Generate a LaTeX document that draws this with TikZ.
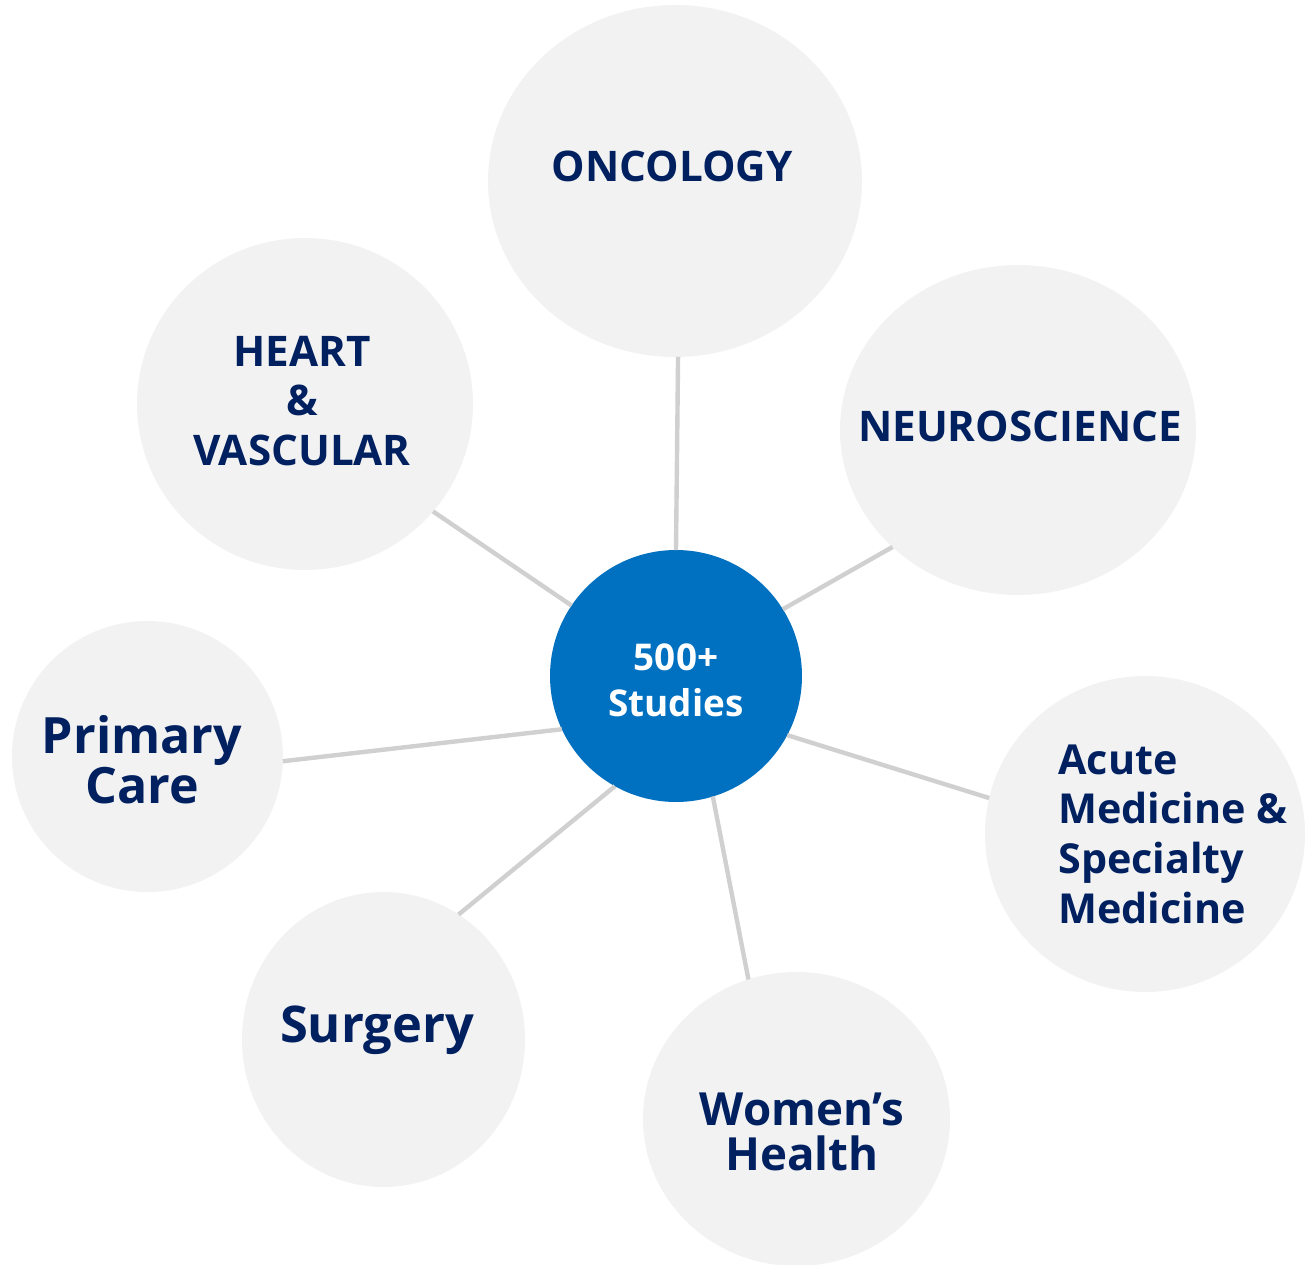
\documentclass[tikz,border=0pt]{standalone}
\usepackage{fontspec}
\setmainfont{Open Sans}
\usetikzlibrary{shapes.geometric}
\definecolor{bubblegray}{HTML}{F2F2F2}
\definecolor{hubblue}{HTML}{0070C0}
\definecolor{navytext}{HTML}{002060}
\definecolor{linkgray}{HTML}{D0D0D0}

\begin{document}
\begin{tikzpicture}[x=0.02cm, y=-0.02cm,
  bubble/.style = {shape=ellipse, fill=bubblegray, inner sep=0pt, outer sep=0pt},
  hub/.style = {shape=circle, fill=hubblue, inner sep=0pt, outer sep=0pt,
    minimum size=5.04cm},
  caption/.style = {inner sep=0pt, align=center, text=navytext},
  link/.style = {draw=linkgray, line width=2.5pt}]
  \path[use as bounding box, fill=white] (0,0) rectangle (1306,1265);

  % the bubbles
  \node[bubble, minimum width=7.48cm, minimum height=7.04cm] (oncology) at (675,181) {};
  \node[bubble, minimum width=6.72cm, minimum height=6.64cm] (heart) at (305,404) {};
  \node[bubble, minimum width=7.12cm, minimum height=6.60cm] (neuro) at (1018,430) {};
  \node[bubble, minimum width=5.42cm, minimum height=5.42cm] (primary) at (147.5,756.5) {};
  \node[bubble, minimum width=6.40cm, minimum height=6.32cm] (acute) at (1145,834) {};
  \node[bubble, minimum width=5.66cm, minimum height=5.90cm] (surgery) at (383.5,1039.5) {};
  \node[bubble, minimum width=6.14cm, minimum height=5.88cm] (women) at (796.5,1119) {};
  \node[hub] (studies) at (676,676) {};

  % spokes
  \draw[link] (studies.90) -- (oncology.271);
  \draw[link] (studies.146) -- (heart.320);
  \draw[link] (studies.32) -- (neuro.223);
  \draw[link] (studies.205) -- (primary.358);
  \draw[link] (studies.332) -- (acute.167);
  \draw[link] (studies.241) -- (surgery.59);
  \draw[link] (studies.287) -- (women.109);

  % the texts
  \node[caption, font=\bfseries\fontsize{24}{28.3}\selectfont] (oncologytext) at (672,166) {ONCOLOGY};
  \node[caption, font=\bfseries\fontsize{24}{28.3}\selectfont] (hearttext) at (302,401) {HEART\\\&\\VASCULAR};
  \node[caption, font=\bfseries\fontsize{24}{28.3}\selectfont] (neurotext) at (1020,426) {NEUROSCIENCE};
  \node[caption, font=\bfseries\fontsize{28.5}{25.5}\selectfont] (primarytext) at (142,760) {Primary\\Care};
  \node[caption, align=left, anchor=west, font=\bfseries\fontsize{23.5}{28.3}\selectfont] (acutetext) at (1058,834)
    {Acute\\Medicine \&\\Specialty\\Medicine};
  \node[caption, font=\bfseries\fontsize{28.8}{30}\selectfont] (surgerytext) at (377,1030) {Surgery};
  \node[caption, font=\bfseries\fontsize{26}{25.5}\selectfont] (womentext) at (802,1132) {Women’s\\Health};
  \node[caption, text=white, font=\bfseries\fontsize{21}{26}\selectfont] (studiestext) at (676,680) {500+\\Studies};
\end{tikzpicture}
\end{document}
